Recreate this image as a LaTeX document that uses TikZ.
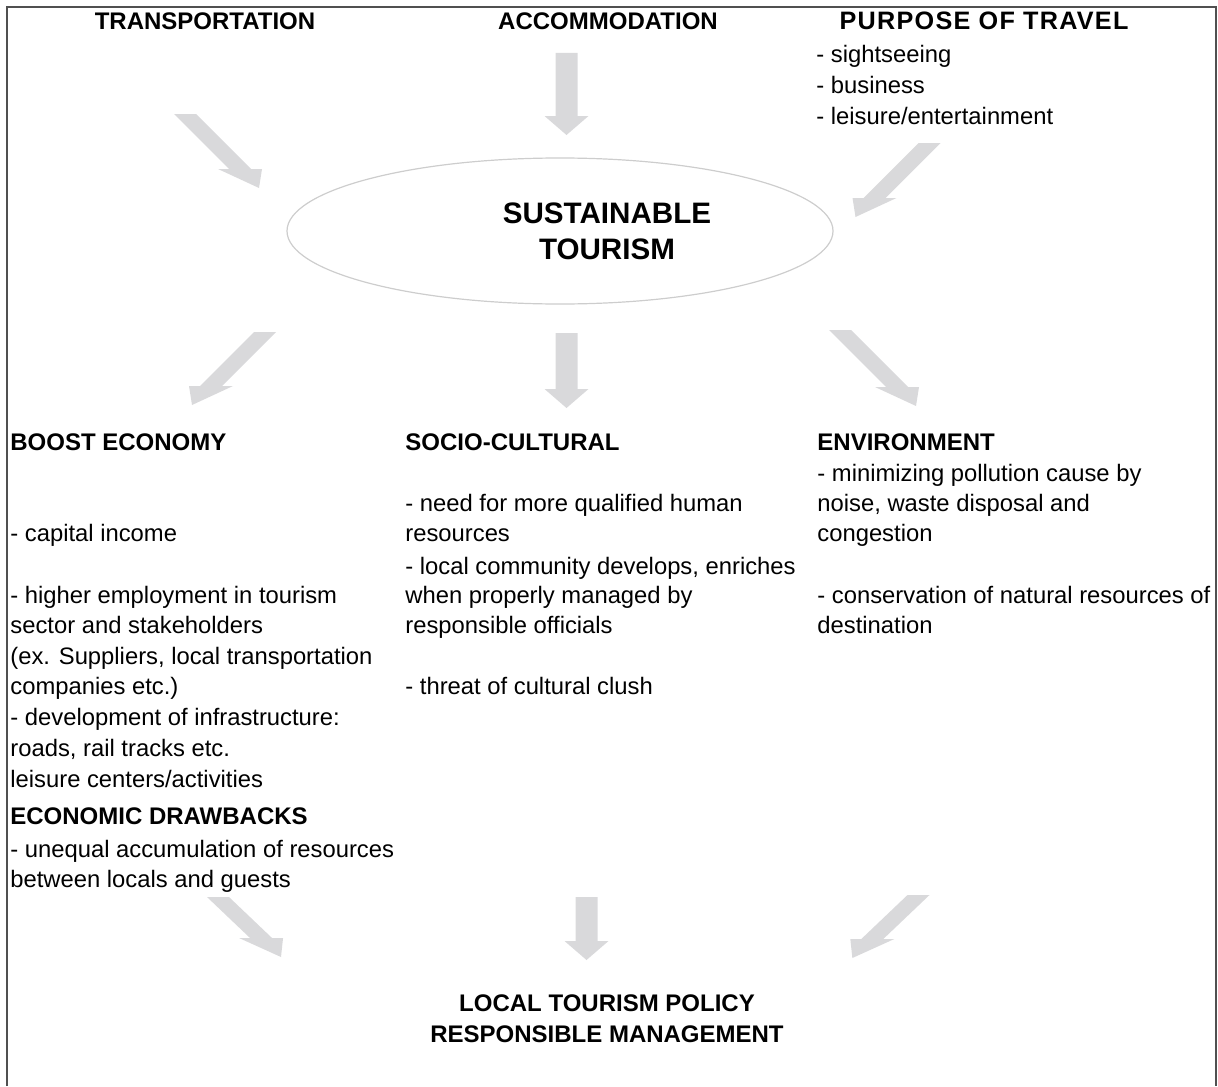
\documentclass[tikz,border=0pt]{standalone}
\usepackage{fontspec}
\setmainfont{Liberation Sans}
\definecolor{arrowgray}{RGB}{217,217,219}
\definecolor{framegray}{RGB}{80,80,80}
\definecolor{ellgray}{RGB}{205,205,205}
\newcommand\blockarr[4]{% cx, top y, length, shear
  \fill[arrowgray] (#1-11,#2) -- (#1+11,#2)
    -- ({#1+11+#4*(#3-19)},{#2+#3-19}) -- ({#1+22+#4*(#3-19)},{#2+#3-19})
    -- ({#1+#4*#3},{#2+#3})
    -- ({#1-22+#4*(#3-19)},{#2+#3-19}) -- ({#1-11+#4*(#3-19)},{#2+#3-19}) -- cycle;}
\tikzset{
  body/.style={font=\fontsize{11.9}{15}\selectfont, inner sep=0pt, anchor=base west},
  head/.style={font=\fontsize{12}{15}\selectfont\bfseries, inner sep=0pt, anchor=base west},
  headc/.style={font=\fontsize{12}{15}\selectfont\bfseries, inner sep=0pt, anchor=base},
}
\begin{document}
\begin{tikzpicture}[x=0.5pt,y=-0.5pt]
\useasboundingbox (0,0) rectangle (1218,1086);
% frame
\draw[framegray, line width=1pt] (7,1086) -- (7,7) -- (1216,7) -- (1216,1086);
% top headings
\node[headc] (trans) at (205,30) {TRANSPORTATION};
\node[headc] (accom) at (608,30) {ACCOMMODATION};
\node[headc, font=\fontsize{12.6}{15}\selectfont\bfseries\addfontfeature{LetterSpace=5}] (purp) at (984,30) {PURPOSE OF TRAVEL};
\node[body] (p1) at (816,62) {- sightseeing};
\node[body] (p2) at (816,93) {- business};
\node[body] (p3) at (816,124) {- leisure/entertainment};
% ellipse
\draw[ellgray, line width=0.6pt] (560,231) ellipse [x radius=273, y radius=73];
\node[font=\fontsize{14.8}{18}\selectfont\bfseries, align=center, inner sep=0pt] (st) at (607,231) {SUSTAINABLE\\TOURISM};
% arrows
\blockarr{185}{114}{74}{1}
\blockarr{566.5}{53}{82}{0}
\blockarr{929.5}{143}{74}{-1}
\blockarr{265}{332}{73}{-1}
\blockarr{566.5}{333}{75}{0}
\blockarr{840}{330}{76}{1}
\blockarr{218}{897}{60}{1.05}
\blockarr{586.5}{897}{63}{0}
\blockarr{918.5}{895}{63}{-1.05}
% left column
\node[head] (be) at (10,450) {BOOST ECONOMY};
\node[body] (l1) at (10,541) {- capital income};
\node[body] (l2) at (10,603) {- higher employment in tourism};
\node[body] (l3) at (10,633) {sector and stakeholders};
\node[body] (l4) at (10,664) {(ex. Suppliers, local transportation};
\node[body] (l5) at (10,694) {companies etc.)};
\node[body] (l6) at (10,725) {- development of infrastructure:};
\node[body] (l7) at (10,756) {roads, rail tracks etc.};
\node[body] (l8) at (10,787) {leisure centers/activities};
\node[head] (ed) at (10,824) {ECONOMIC DRAWBACKS};
\node[body] (l9) at (10,857) {- unequal accumulation of resources};
\node[body] (l10) at (10,887) {between locals and guests};
% middle column
\node[head] (sc) at (405,450) {SOCIO-CULTURAL};
\node[body] (m1) at (405,511) {- need for more qualified human};
\node[body] (m2) at (405,541) {resources};
\node[body] (m3) at (405,574) {- local community develops, enriches};
\node[body] (m4) at (405,603) {when properly managed by};
\node[body] (m5) at (405,633) {responsible officials};
\node[body] (m6) at (405,694) {- threat of cultural clush};
% right column
\node[head] (en) at (817,450) {ENVIRONMENT};
\node[body] (r1) at (817,481) {- minimizing pollution cause by};
\node[body] (r2) at (817,511) {noise, waste disposal and};
\node[body] (r3) at (817,541) {congestion};
\node[body] (r4) at (817,603) {- conservation of natural resources of};
\node[body] (r5) at (817,633) {destination};
% bottom
\node[headc] (ltp) at (607,1011) {LOCAL TOURISM POLICY};
\node[headc] (rm) at (607,1042) {RESPONSIBLE MANAGEMENT};
\end{tikzpicture}
\end{document}
